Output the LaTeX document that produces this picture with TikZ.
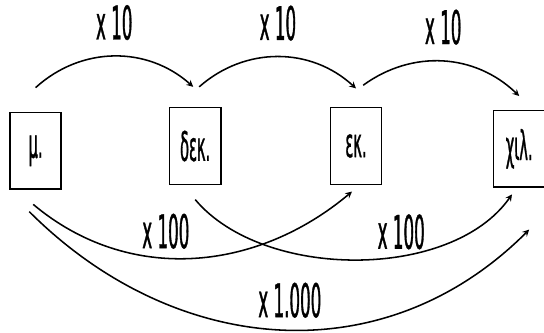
\documentclass[tikz,border=0pt]{standalone}
\usepackage{fontspec}
\newfontfamily\lblfont[FakeStretch=0.36, FakeBold=0.7]{DejaVu Sans}
\usetikzlibrary{positioning}

\begin{document}
\begin{tikzpicture}[>=stealth, line width=1.1pt,
	box/.style={draw, minimum width=1.28cm, minimum height=1.92cm, inner sep=0pt, font=\fontsize{29}{32}\lblfont},
	every node/.style={font=\fontsize{33}{36}\lblfont, inner sep=1pt}]
	\useasboundingbox (0,0) rectangle (13.6,8.3);
	\node[box] (mu) at (0.89,4.53) {μ.};
	\node[box] (dek) at (4.88,4.65) {δεκ.};
	\node[box] (ek) at (8.9,4.65) {εκ.};
	\node[box] (xil) at (12.98,4.58) {χιλ.};

	% x 10 steps
	\path[->] ([yshift=6mm]mu.north) edge[bend left=42] node[midway, above=3.5mm] {x 10} ([xshift=-0.5mm, yshift=5mm]dek.north);
	\path[->] ([xshift=1mm, yshift=5mm]dek.north) edge[bend left=42] node[midway, above=3.5mm] {x 10} ([yshift=4.6mm]ek.north);
	\path[->] ([xshift=1.8mm, yshift=5.4mm]ek.north) edge[bend left=40] node[midway, above=3.6mm] {x 10} ([yshift=3.4mm]xil.north);

	% x 100 and x 1.000
	\path[->] ([xshift=-0.6mm, yshift=-3.6mm]mu.south) edge[out=-40, in=-140] node[pos=0.42, above=1.8mm] {x 100} ([xshift=-1mm, yshift=-1.6mm]ek.south);
	\path[->] ([yshift=-3.6mm]dek.south) edge[out=-50, in=-125, looseness=0.85] node[pos=0.62, above=1mm] {x 100} ([xshift=-1.8mm, yshift=-1.6mm]xil.south);
	\path[->] ([xshift=-1.6mm, yshift=-5.4mm]mu.south) edge[out=-45, in=-135, looseness=1.05] node[pos=0.52, above=2.5mm] {x 1.000} ([xshift=2.5mm, yshift=-10.4mm]xil.south);
\end{tikzpicture}
\end{document}
